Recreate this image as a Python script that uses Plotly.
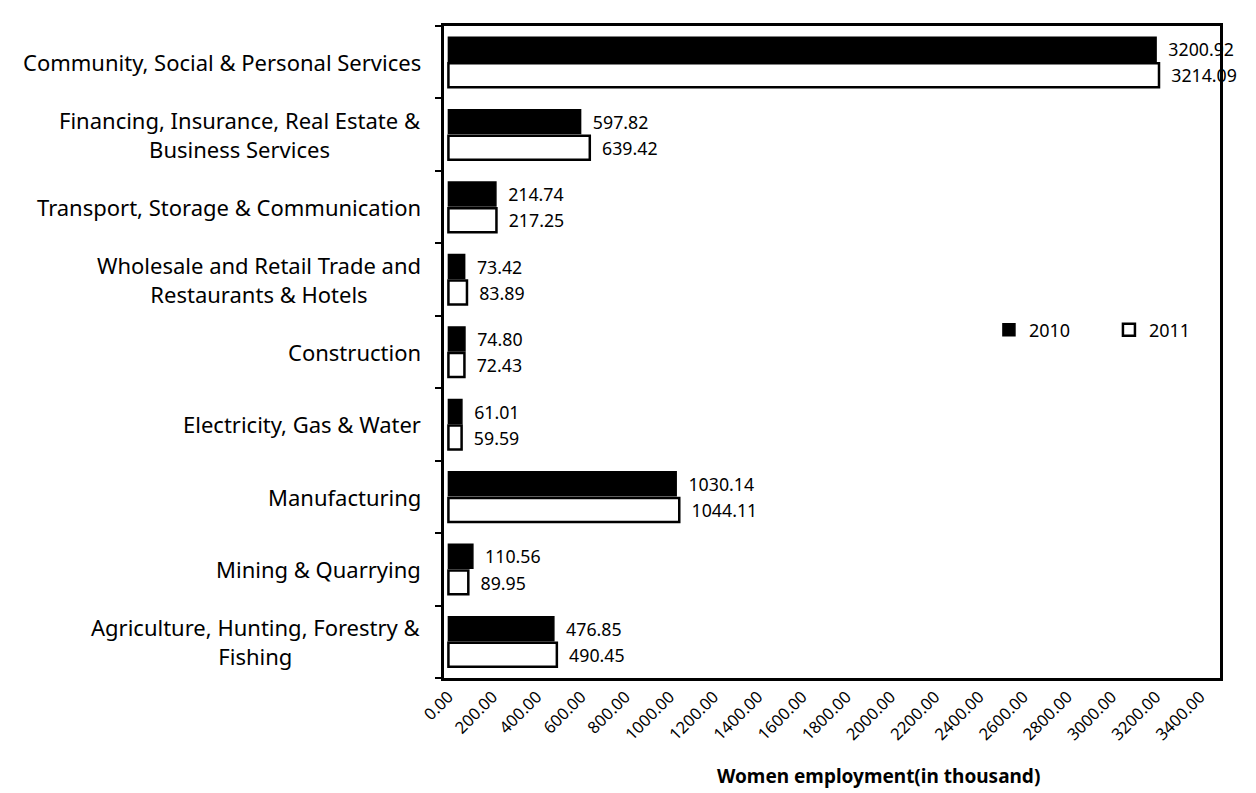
import plotly.graph_objects as go

categories = [
    "Agriculture, Hunting, Forestry &<br>Fishing",
    "Mining & Quarrying",
    "Manufacturing",
    "Electricity, Gas & Water",
    "Construction",
    "Wholesale and Retail Trade and<br>Restaurants & Hotels",
    "Transport, Storage & Communication",
    "Financing, Insurance, Real Estate &<br>Business Services",
    "Community, Social & Personal Services",
]
values_2010 = [476.85, 110.56, 1030.14, 61.01, 74.80, 73.42, 214.74, 597.82, 3200.92]
values_2011 = [490.45, 89.95, 1044.11, 59.59, 72.43, 83.89, 217.25, 639.42, 3214.09]
tick_vals = list(range(0, 3401, 200))
tick_text = [f"{v:.2f}" for v in tick_vals]

font_family = "Noto Sans, Open Sans, sans-serif"

fig = go.Figure()
fig.add_trace(go.Bar(
    y=categories, x=values_2011, name="2011", orientation="h",
    marker=dict(color="white", line=dict(color="black", width=2.5)),
    texttemplate="  %{x:.2f}", textposition="outside",
    textfont=dict(size=18.5, color="black", family=font_family),
    cliponaxis=False,
))
fig.add_trace(go.Bar(
    y=categories, x=values_2010, name="2010", orientation="h",
    marker=dict(color="black", line=dict(color="black", width=1.5)),
    texttemplate="  %{x:.2f}", textposition="outside",
    textfont=dict(size=18.5, color="black", family=font_family),
    cliponaxis=False,
))

# category labels as centred multi-line annotations (Excel style)
for cat in categories:
    fig.add_annotation(
        x=0, xref="paper", y=cat, yref="y", text=cat, showarrow=False,
        xanchor="right", yanchor="middle", align="center", xshift=-21,
        font=dict(size=22, color="black", family=font_family),
    )

fig.add_annotation(
    x=0.56, xref="paper", y=-0.15, yref="paper",
    text="<b>Women employment(in thousand)</b>", showarrow=False,
    xanchor="center", yanchor="middle",
    font=dict(size=19, color="black", family=font_family),
)

fig.update_layout(
    width=1256, height=793,
    barmode="group", bargap=0.28, bargroupgap=0.08,
    plot_bgcolor="white", paper_bgcolor="white",
    margin=dict(l=436, r=44, t=18, b=123, autoexpand=False),
    font=dict(family=font_family, size=16, color="black"),
    legend=dict(orientation="h", xref="container", yref="container",
                x=0.781, y=0.594, xanchor="left", yanchor="middle",
                traceorder="reversed", font=dict(size=18), entrywidth=75,
                bgcolor="rgba(0,0,0,0)"),
    xaxis=dict(
        range=[-20, 3490], tickvals=tick_vals, ticktext=tick_text,
        tickangle=-45, showgrid=False, zeroline=False,
        showline=True, linecolor="black", linewidth=2.5, mirror=True,
        ticks="", tickfont=dict(size=16.5), automargin=False,
    ),
    yaxis=dict(
        showgrid=False, showline=True, linecolor="black", linewidth=2.5, mirror=True,
        ticks="outside", tickson="boundaries", ticklen=6, tickwidth=2, tickcolor="black",
        showticklabels=False, automargin=False,
    ),
)

fig.write_html("out.html")
